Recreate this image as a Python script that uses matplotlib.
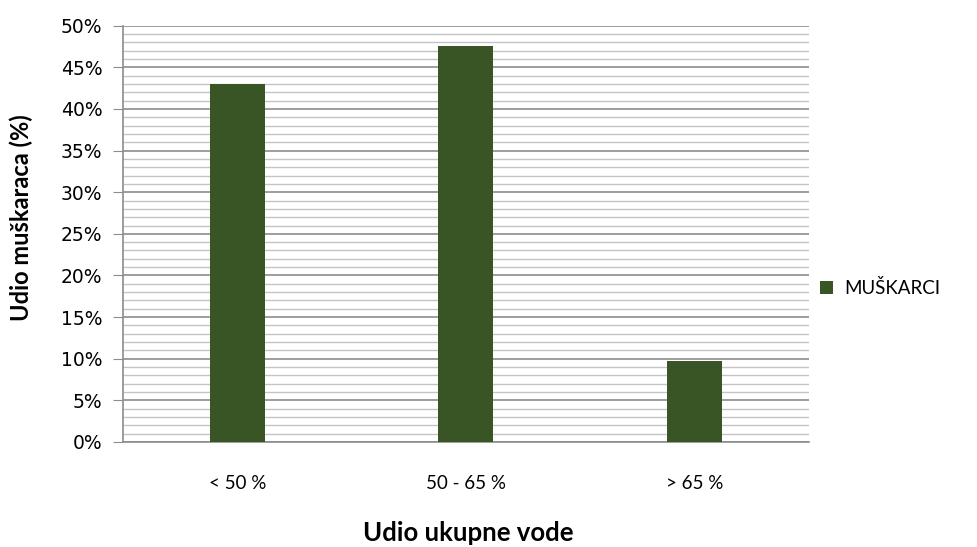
import matplotlib
matplotlib.use('Agg')
import matplotlib.pyplot as plt
from matplotlib.ticker import MultipleLocator, PercentFormatter

categories = ['< 50 %', '50 - 65 %', '> 65 %']
muskarci = [43.0, 47.6, 9.7]
series_name = 'MUŠKARCI'

plt.rcParams['font.family'] = ['Lato', 'DejaVu Sans']

fig = plt.figure(figsize=(9.78, 5.47), dpi=100)
ax = fig.add_axes([0.1258, 0.192, 0.701, 0.761])

x = range(len(categories))
ax.bar(x, muskarci, width=0.24, color='#3A5525', label=series_name, zorder=3)

ax.set_xlim(-0.5, len(categories) - 0.5)
ax.set_ylim(0, 50)
ax.yaxis.set_major_locator(MultipleLocator(5))
ax.yaxis.set_minor_locator(MultipleLocator(1))
ax.yaxis.set_major_formatter(PercentFormatter(decimals=0))
ax.grid(which='major', axis='y', color='#8C8C8C', linewidth=1.2, zorder=0)
ax.grid(which='minor', axis='y', color='#C4C4C4', linewidth=1.0, zorder=0)

ax.set_xticks(list(x))
ax.set_xticklabels(categories)
ax.tick_params(axis='x', length=0, pad=24, labelsize=13.5)
ax.tick_params(axis='y', which='major', length=7, color='#8C8C8C', pad=8)
ax.tick_params(axis='y', which='minor', length=0)
for lab in ax.get_yticklabels():
    lab.set_fontfamily('DejaVu Sans')
    lab.set_fontsize(13.5)

for side in ['top', 'right']:
    ax.spines[side].set_visible(False)
ax.spines['left'].set_color('#8C8C8C')
ax.spines['bottom'].set_color('#8C8C8C')
ax.spines['left'].set_linewidth(1.2)
ax.spines['bottom'].set_linewidth(1.2)

fig.text(0.022, 1 - 218 / 547, 'Udio muškaraca (%)', rotation=90,
         ha='center', va='center', fontsize=17, fontweight='bold')
fig.text(0.479, 1 - 533 / 547, 'Udio ukupne vode',
         ha='center', va='center', fontsize=18.5, fontweight='bold')

fig.legend(loc='center left', bbox_to_anchor=(0.838, 0.473), frameon=False,
           fontsize=13.5, handlelength=0.7, handleheight=0.7, handletextpad=0.6,
           borderpad=0, borderaxespad=0)

fig.savefig('out.png', dpi=100)
